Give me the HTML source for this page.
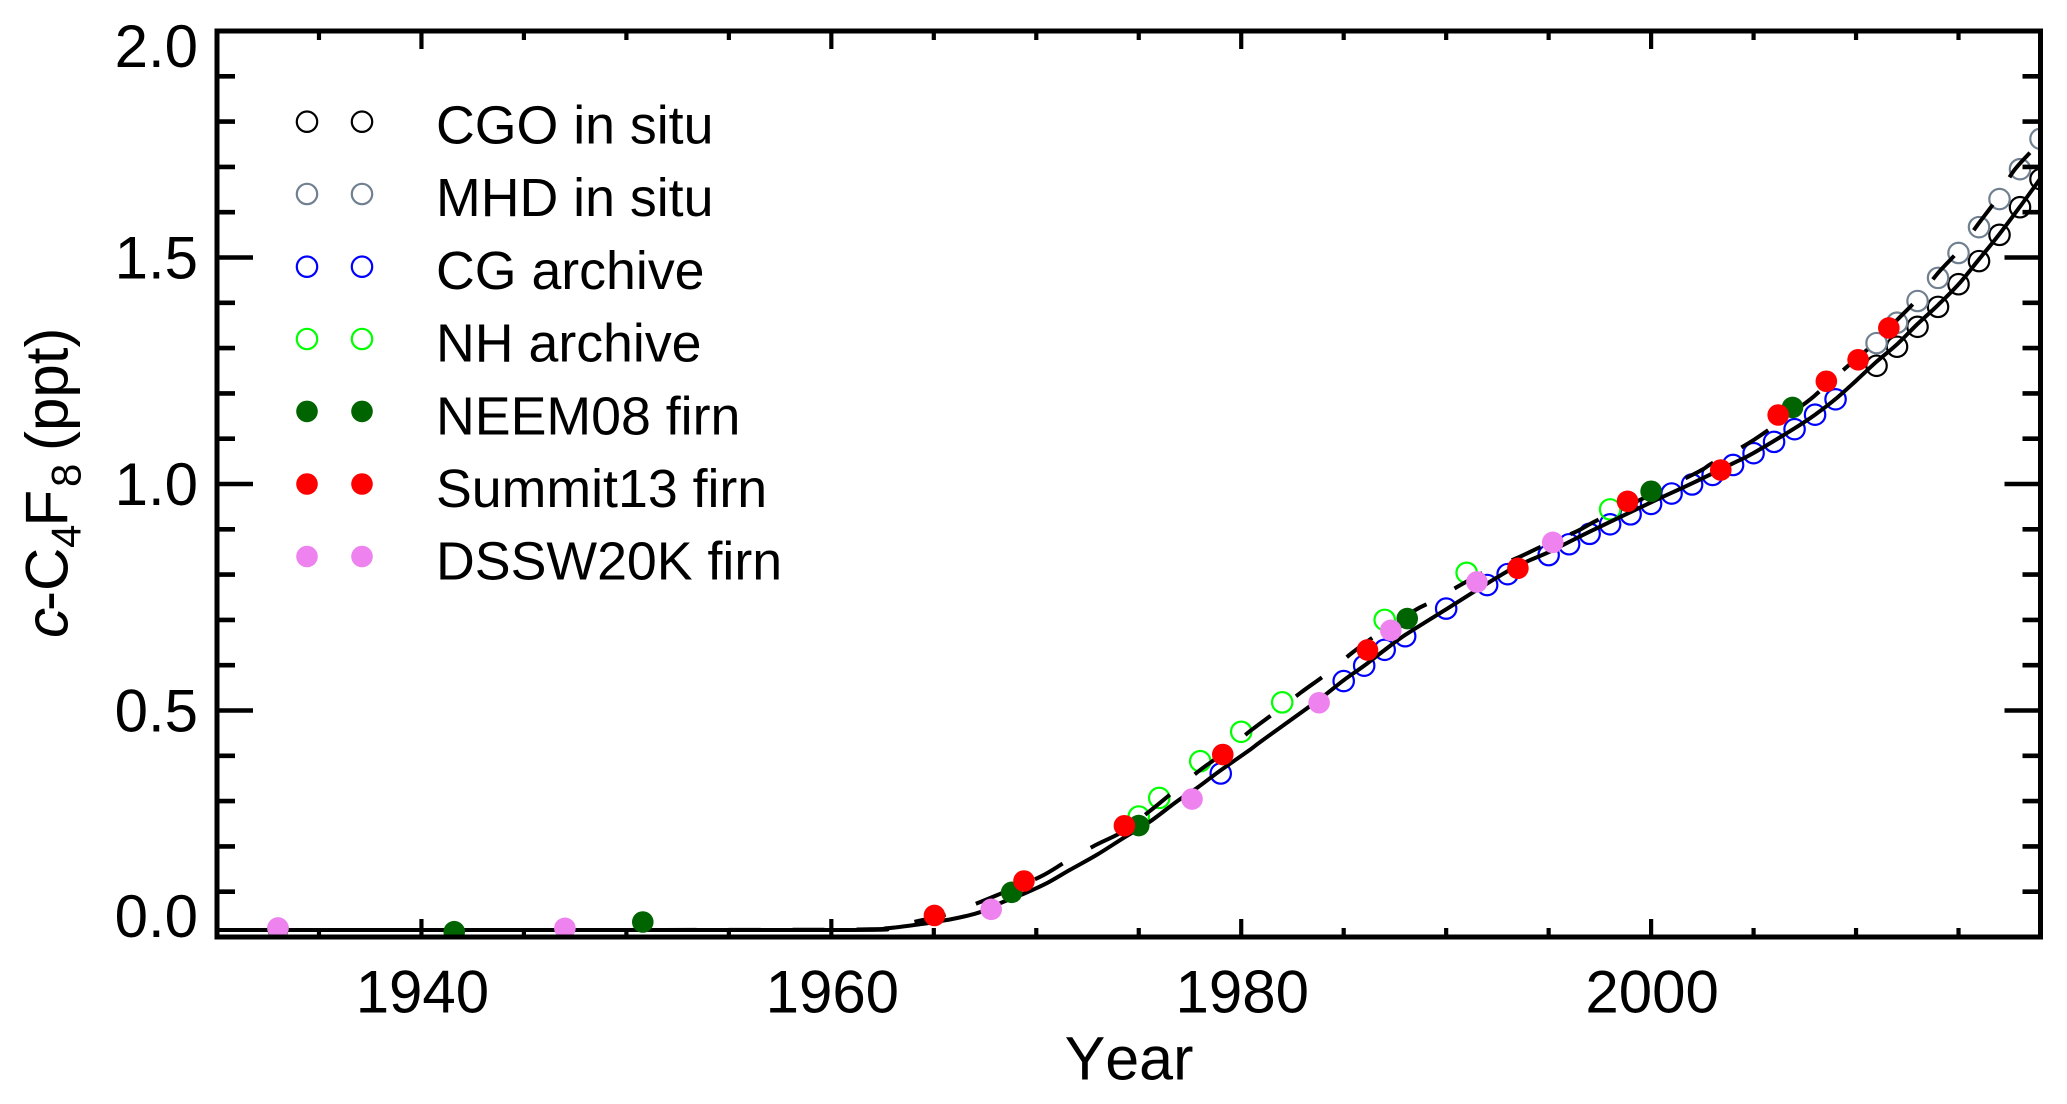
<!DOCTYPE html>
<html lang="en">
<head>
<meta charset="utf-8">
<title>c-C4F8 time series</title>
<style>
html,body{margin:0;padding:0;background:#fff;}
svg{display:block;}
text{font-family:"Liberation Sans",Arial,sans-serif;fill:#000;font-kerning:none;}
</style>
</head>
<body>
<svg id="chart" xmlns="http://www.w3.org/2000/svg" width="2067" height="1104" viewBox="0 0 2067 1104">
  <defs><clipPath id="plot-clip"><rect x="217" y="31" width="1823.5" height="904"/></clipPath></defs>
  <rect x="0" y="0" width="2067" height="1104" fill="#fff"/>
  <g id="open-layer" clip-path="url(#plot-clip)"></g>
  <g id="line-layer" clip-path="url(#plot-clip)"></g>
  <g id="filled-layer" clip-path="url(#plot-clip)"></g>
  <g id="axis-layer"></g>
  <rect x="217" y="31" width="1823.5" height="906" fill="none" stroke="#000" stroke-width="5"/>

  <g font-size="53.7">
    <g>
      <circle cx="307" cy="121.7" r="10.2" fill="none" stroke="#000" stroke-width="2.2"/><circle cx="362" cy="121.7" r="10.2" fill="none" stroke="#000" stroke-width="2.2"/>
      <text x="436" y="143.5">CGO in situ</text>
    </g>
    <g>
      <circle cx="307" cy="194" r="10.2" fill="none" stroke="#708090" stroke-width="2.2"/><circle cx="362" cy="194" r="10.2" fill="none" stroke="#708090" stroke-width="2.2"/>
      <text x="436" y="216.2">MHD in situ</text>
    </g>
    <g>
      <circle cx="307" cy="266.7" r="10.2" fill="none" stroke="#0000ff" stroke-width="2.2"/><circle cx="362" cy="266.7" r="10.2" fill="none" stroke="#0000ff" stroke-width="2.2"/>
      <text x="436" y="288.9">CG archive</text>
    </g>
    <g>
      <circle cx="307" cy="339" r="10.2" fill="none" stroke="#00ff00" stroke-width="2.2"/><circle cx="362" cy="339" r="10.2" fill="none" stroke="#00ff00" stroke-width="2.2"/>
      <text x="436" y="361.6">NH archive</text>
    </g>
    <g>
      <circle cx="307" cy="411.4" r="10.8" fill="#006400"/><circle cx="362" cy="411.4" r="10.8" fill="#006400"/>
      <text x="436" y="434.3">NEEM08 firn</text>
    </g>
    <g>
      <circle cx="307" cy="484" r="10.8" fill="#ff0000"/><circle cx="362" cy="484" r="10.8" fill="#ff0000"/>
      <text x="436" y="507">Summit13 firn</text>
    </g>
    <g>
      <circle cx="307" cy="556.5" r="10.8" fill="#ee82ee"/><circle cx="362" cy="556.5" r="10.8" fill="#ee82ee"/>
      <text x="436" y="579.7">DSSW20K firn</text>
    </g>
  </g>

  <text x="1129" y="1079.5" font-size="61" text-anchor="middle">Year</text>
  <text transform="translate(67.5,638) rotate(-90)" font-size="60"><tspan x="0" font-style="italic">c</tspan><tspan x="27">-C</tspan><tspan x="90" font-size="42" dy="13">4</tspan><tspan x="111.5" dy="-13">F</tspan><tspan x="151" font-size="42" dy="13">8</tspan><tspan x="187" dy="-13">(ppt)</tspan></text>
</svg>

<script>
// ---- axis configuration values ----
var xDomain = [1930, 2019];
var yDomain = [0, 2];
var xMajorTicks = [1940, 1960, 1980, 2000];
var xTickLabels = ['1940', '1960', '1980', '2000'];
var xMinorTicks = [1935, 1945, 1950, 1955, 1965, 1970, 1975, 1985, 1990, 1995, 2005, 2010, 2015];
var yMajorTicks = [0.5, 1.0, 1.5];
var yMinorTicks = [0.1, 0.2, 0.3, 0.4, 0.6, 0.7, 0.8, 0.9, 1.1, 1.2, 1.3, 1.4, 1.6, 1.7, 1.8, 1.9];
var yLabelValues = [0.0, 0.5, 1.0, 1.5, 2.0];
var yTickLabels = ['0.0', '0.5', '1.0', '1.5', '2.0'];

// ---- observation series ----
var cgoYears = [2011, 2012, 2013, 2014, 2015, 2016, 2017, 2018, 2019];
var cgoValues = [1.261, 1.303, 1.347, 1.391, 1.441, 1.492, 1.550, 1.611, 1.673];
var mhdYears = [2011, 2012, 2013, 2014, 2015, 2016, 2017, 2018, 2019];
var mhdValues = [1.311, 1.356, 1.404, 1.455, 1.510, 1.567, 1.629, 1.695, 1.762];
var cgArchiveYears = [1979, 1985, 1986, 1987, 1988, 1990, 1992, 1993, 1995, 1996, 1997, 1998, 1999, 2000, 2001, 2002, 2003, 2004, 2005, 2006, 2007, 2008, 2009];
var cgArchiveValues = [0.361, 0.565, 0.599, 0.634, 0.664, 0.725, 0.777, 0.801, 0.843, 0.867, 0.890, 0.911, 0.933, 0.956, 0.979, 0.999, 1.020, 1.042, 1.068, 1.093, 1.121, 1.153, 1.187];
var nhArchiveYears = [1975, 1976, 1978, 1980, 1982, 1987, 1991, 1998];
var nhArchiveValues = [0.266, 0.307, 0.388, 0.453, 0.518, 0.700, 0.804, 0.944];
var neemYears = [1933, 1941.6, 1950.8, 1968.8, 1975, 1988.1, 2000, 2006.9];
var neemValues = [0.018, 0.0117, 0.0331, 0.0986, 0.246, 0.703, 0.984, 1.169];
var summitYears = [1965.03, 1969.4, 1974.3, 1979.1, 1986.16, 1993.5, 1998.85, 2003.4, 2006.2, 2008.55, 2010.1, 2011.6];
var summitValues = [0.0475, 0.1236, 0.2455, 0.4028, 0.6336, 0.8139, 0.9618, 1.0309, 1.1523, 1.2268, 1.2742, 1.3444];
var dsswYears = [1933, 1947, 1967.8, 1977.6, 1983.8, 1987.3, 1991.5, 1995.2];
var dsswValues = [0.0199, 0.0192, 0.0611, 0.3046, 0.5171, 0.6770, 0.7837, 0.8712];

// ---- model curves ----
var solidYears = [1930, 1945, 1961, 1962.7, 1964.3, 1965.9, 1967.24, 1968.22, 1969.36, 1970.5, 1971.63, 1972.94, 1974.23, 1975.54, 1976.84, 1977.81, 1978.95, 1980.41, 1981.06, 1983.75, 1984.97, 1985.98, 1987, 1988, 1990, 1993.1, 1995.05, 1997, 1999.9, 2002, 2004, 2005, 2007, 2008, 2009, 2010, 2011, 2012, 2013, 2014, 2015, 2016, 2017, 2018, 2019];
var solidValues = [0.0155, 0.0155, 0.0155, 0.0192, 0.028, 0.0397, 0.0545, 0.0744, 0.0949, 0.1185, 0.1479, 0.1810, 0.2179, 0.2545, 0.2987, 0.3281, 0.3664, 0.4128, 0.4349, 0.5226, 0.5658, 0.5982, 0.6336, 0.6667, 0.7234, 0.8102, 0.8506, 0.8947, 0.9574, 1.0015, 1.0457, 1.0684, 1.123, 1.153, 1.1876, 1.228, 1.27, 1.3084, 1.3532, 1.3951, 1.4408, 1.496, 1.5519, 1.6122, 1.6748];
var dashedYears = [1930, 1945, 1961, 1962.8, 1964.3, 1965.8, 1967.3, 1968.3, 1970.2, 1971.5, 1972.9, 1974.2, 1975.5, 1976.7, 1978, 1979, 1980.5, 1981.7, 1982.9, 1984.2, 1985.4, 1986.6, 1988.5, 1989.3, 1990.7, 1992, 1993.6, 1994.7, 1996.4, 1997.6, 2002, 2003, 2005, 2007.4, 2008.2, 2009.6, 2010.8, 2012, 2013, 2014, 2015, 2016, 2016.9, 2017.7, 2018.7, 2019];
var dashedValues = [0.0155, 0.0155, 0.0165, 0.0227, 0.036, 0.0523, 0.0779, 0.0965, 0.1331, 0.1678, 0.2031, 0.2325, 0.2766, 0.3208, 0.3687, 0.4018, 0.457, 0.4973, 0.5393, 0.5821, 0.6269, 0.6667, 0.7219, 0.7402, 0.777, 0.8086, 0.8395, 0.8631, 0.8962, 0.925, 1.0199, 1.0464, 1.0971, 1.1744, 1.2038, 1.2605, 1.3068, 1.362, 1.4084, 1.4658, 1.515, 1.5762, 1.6313, 1.6916, 1.7417, 1.7594];

var SVGNS = 'http://www.w3.org/2000/svg';
function xScale(year) {
  return 216.5 + (year - xDomain[0]) * (2040.5 - 216.5) / (xDomain[1] - xDomain[0]);
}
function yScale(value) {
  return 937 - (value - yDomain[0]) * 906 / (yDomain[1] - yDomain[0]);
}
function make(tag, attrs) {
  var node = document.createElementNS(SVGNS, tag);
  for (var k in attrs) { node.setAttribute(k, attrs[k]); }
  return node;
}

var openLayer = document.getElementById('open-layer');
var lineLayer = document.getElementById('line-layer');
var filledLayer = document.getElementById('filled-layer');
var axisLayer = document.getElementById('axis-layer');

function drawOpen(years, values, color, name) {
  for (var i = 0; i < years.length; i++) {
    var el = make('circle', {cx: xScale(years[i]), cy: yScale(values[i]), r: 10.2, fill: 'none', stroke: color, 'stroke-width': 2.2});
    
    
    openLayer.appendChild(el);
  }
}
function drawFilled(years, values, color, name) {
  for (var i = 0; i < years.length; i++) {
    var el = make('circle', {cx: xScale(years[i]), cy: yScale(values[i]), r: 10.8, fill: color});
    
    
    filledLayer.appendChild(el);
  }
}
// Smooth Catmull-Rom path through the read values
function pathFrom(years, values) {
  var px = [], py = [];
  for (var i = 0; i < years.length; i++) {
    px.push(xScale(years[i]));
    py.push(yScale(values[i]));
  }
  var d = 'M' + px[0].toFixed(2) + ' ' + py[0].toFixed(2);
  for (var s = 0; s < px.length - 1; s++) {
    var a = Math.max(s - 1, 0), b = Math.min(s + 2, px.length - 1);
    var c1x = px[s] + (px[s + 1] - px[a]) / 6, c1y = py[s] + (py[s + 1] - py[a]) / 6;
    var c2x = px[s + 1] - (px[b] - px[s]) / 6, c2y = py[s + 1] - (py[b] - py[s]) / 6;
    d += 'C' + c1x.toFixed(2) + ' ' + c1y.toFixed(2) + ' ' + c2x.toFixed(2) + ' ' + c2y.toFixed(2) + ' ' + px[s + 1].toFixed(2) + ' ' + py[s + 1].toFixed(2);
  }
  return d;
}

drawOpen(cgoYears, cgoValues, '#000000', 'cgo-in-situ-point');
drawOpen(mhdYears, mhdValues, '#708090', 'mhd-in-situ-point');
drawOpen(cgArchiveYears, cgArchiveValues, '#0000ff', 'cg-archive-point');
drawOpen(nhArchiveYears, nhArchiveValues, '#00ff00', 'nh-archive-point');

var solidLine = make('path', {d: pathFrom(solidYears, solidValues), fill: 'none', stroke: '#000', 'stroke-width': 4, 'stroke-linejoin': 'round'});


lineLayer.appendChild(solidLine);

var dashedLine = make('path', {d: pathFrom(dashedYears, dashedValues), fill: 'none', stroke: '#000', 'stroke-width': 4, 'stroke-dasharray': '32 32', 'stroke-linejoin': 'round'});


lineLayer.appendChild(dashedLine);

drawFilled(neemYears, neemValues, '#006400', 'neem08-firn-point');
drawFilled(summitYears, summitValues, '#ff0000', 'summit13-firn-point');
drawFilled(dsswYears, dsswValues, '#ee82ee', 'dssw20k-firn-point');

function tickLine(x1, y1, x2, y2, width, name) {
  var el = make('line', {x1: x1, y1: y1, x2: x2, y2: y2, stroke: '#000', 'stroke-width': width});
  
  
  axisLayer.appendChild(el);
}
function drawXTicks(list, len, name) {
  for (var i = 0; i < list.length; i++) {
    var x = xScale(list[i]);
    tickLine(x, 937, x, 937 - len, 4.2, name);
    tickLine(x, 31, x, 31 + len, 4.2, name);
  }
}
function drawYTicks(list, len, name) {
  for (var i = 0; i < list.length; i++) {
    var y = yScale(list[i]);
    tickLine(217, y, 217 + len, y, 4.6, name);
    tickLine(2040.5, y, 2040.5 - len, y, 4.6, name);
  }
}
drawXTicks(xMajorTicks, 18, 'x-major-tick');
drawXTicks(xMinorTicks, 9, 'x-minor-tick');
drawYTicks(yMajorTicks, 36, 'y-major-tick');
drawYTicks(yMinorTicks, 18, 'y-minor-tick');

for (var i = 0; i < xMajorTicks.length; i++) {
  var xt = make('text', {x: xScale(xMajorTicks[i]) + 1, y: 1012.5, 'font-size': 60, 'text-anchor': 'middle'});
  xt.textContent = xTickLabels[i];
  
  
  axisLayer.appendChild(xt);
}
for (var j = 0; j < yLabelValues.length; j++) {
  var v = yLabelValues[j];
  var base = yScale(v) + 21;
  if (v === yDomain[1]) { base = yScale(v) + 36; }
  if (v === yDomain[0]) { base = yScale(v); }
  var yt = make('text', {x: 198, y: base, 'font-size': 60, 'text-anchor': 'end'});
  yt.textContent = yTickLabels[j];
  
  
  axisLayer.appendChild(yt);
}
</script>
</body>
</html>
